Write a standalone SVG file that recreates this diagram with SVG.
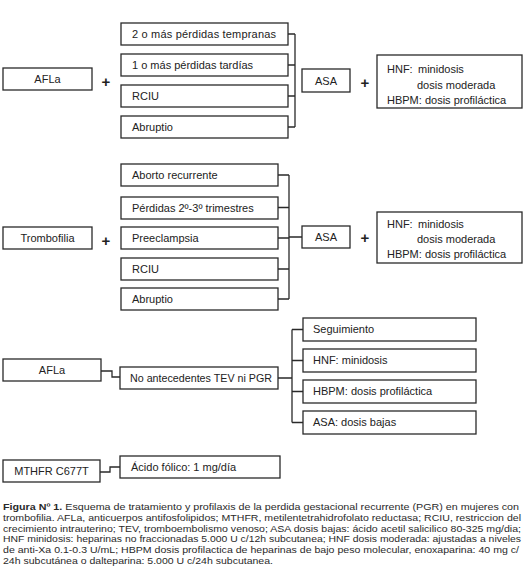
<svg xmlns="http://www.w3.org/2000/svg" width="526" height="578" viewBox="0 0 526 578">
<style>
.b{fill:#fff;stroke:#2a2a2a;stroke-width:1.3}
.t{font-family:"Liberation Sans",Arial,sans-serif;font-size:11px;fill:#222}
.c{text-anchor:middle}
.p{font-family:"Liberation Sans",Arial,sans-serif;font-size:15px;font-weight:bold;fill:#222;text-anchor:middle}
.cn{fill:none;stroke:#2a2a2a;stroke-width:1.3}
.cap{font-family:"Liberation Sans",Arial,sans-serif;font-size:9.8px;fill:#2a2a2a}
</style>
<rect width="526" height="578" fill="#fff"/>
<g id="connectors">
<path class="cn" d="M288,34H295M288,65H295M288,96H295M288,127H295M295,34V127"/>
<path class="cn" d="M278,175H289M278,207.5H289M278,238H289M278,269H289M278,299H289M289,175V299M289,237H302"/>
<path class="cn" d="M101,371H112V377H120M278,378H292M292,329.5V422.5M292,329.5H303M292,360.5H303M292,391.5H303M292,422.5H303"/>
<path class="cn" d="M100,472H110V467H120"/>
</g>
<g id="afla1"><rect class="b" x="3" y="68" width="89" height="22"/><text class="t c" x="47.5" y="83">AFLa</text></g>
<g id="plus1"><text class="p" x="106" y="87">+</text></g>
<g id="s1a"><rect class="b" x="121" y="23" width="167" height="22"/><text class="t" x="132" y="38" textLength="144" lengthAdjust="spacing">2 o más pérdidas tempranas</text></g>
<g id="s1b"><rect class="b" x="121" y="54" width="167" height="22"/><text class="t" x="132" y="69">1 o más pérdidas tardías</text></g>
<g id="s1c"><rect class="b" x="121" y="85" width="167" height="22"/><text class="t" x="132" y="100">RCIU</text></g>
<g id="s1d"><rect class="b" x="121" y="116" width="167" height="22"/><text class="t" x="132" y="131">Abruptio</text></g>
<g id="asa1"><rect class="b" x="302" y="69" width="48" height="23"/><text class="t c" x="326" y="85">ASA</text></g>
<g id="plus2"><text class="p" x="365" y="88">+</text></g>
<g id="hep1"><rect class="b" x="377" y="55" width="145" height="53"/>
<text class="t" x="387" y="73">HNF:</text><text class="t" x="418" y="73">minidosis</text>
<text class="t" x="417" y="89">dosis moderada</text>
<text class="t" x="387" y="104">HBPM: dosis profiláctica</text></g>

<g id="trombo"><rect class="b" x="3" y="227" width="89" height="22"/><text class="t c" x="47.5" y="242">Trombofilia</text></g>
<g id="plus3"><text class="p" x="106" y="246">+</text></g>
<g id="s2a"><rect class="b" x="121" y="164" width="157" height="22"/><text class="t" x="132" y="179">Aborto recurrente</text></g>
<g id="s2b"><rect class="b" x="121" y="197" width="157" height="22"/><text class="t" x="132" y="212">Pérdidas 2º-3º trimestres</text></g>
<g id="s2c"><rect class="b" x="121" y="227" width="157" height="22"/><text class="t" x="132" y="242">Preeclampsia</text></g>
<g id="s2d"><rect class="b" x="121" y="258" width="157" height="22"/><text class="t" x="132" y="273">RCIU</text></g>
<g id="s2e"><rect class="b" x="121" y="288" width="157" height="22"/><text class="t" x="132" y="303">Abruptio</text></g>
<g id="asa2"><rect class="b" x="302" y="226" width="48" height="22"/><text class="t c" x="326" y="241">ASA</text></g>
<g id="plus4"><text class="p" x="365" y="243">+</text></g>
<g id="hep2"><rect class="b" x="377" y="212" width="145" height="51"/>
<text class="t" x="387" y="228">HNF:</text><text class="t" x="418" y="228">minidosis</text>
<text class="t" x="417" y="243">dosis moderada</text>
<text class="t" x="387" y="258">HBPM: dosis profiláctica</text></g>

<g id="afla2"><rect class="b" x="3" y="359" width="98" height="22"/><text class="t c" x="52" y="374">AFLa</text></g>
<g id="noant"><rect class="b" x="120" y="367" width="158" height="22"/><text class="t" x="130" y="382" textLength="142" lengthAdjust="spacingAndGlyphs">No antecedentes TEV ni PGR</text></g>
<g id="s3a"><rect class="b" x="303" y="318" width="173" height="23"/><text class="t" x="313" y="333">Seguimiento</text></g>
<g id="s3b"><rect class="b" x="303" y="349" width="173" height="23"/><text class="t" x="313" y="364">HNF: minidosis</text></g>
<g id="s3c"><rect class="b" x="303" y="380" width="173" height="23"/><text class="t" x="313" y="395">HBPM: dosis profiláctica</text></g>
<g id="s3d"><rect class="b" x="303" y="411" width="173" height="23"/><text class="t" x="313" y="426">ASA: dosis bajas</text></g>

<g id="mthfr"><rect class="b" x="3" y="460" width="97" height="22"/><text class="t c" x="51.5" y="475">MTHFR C677T</text></g>
<g id="folico"><rect class="b" x="120" y="456" width="160" height="22"/><text class="t" x="131" y="471">Ácido fólico: 1 mg/día</text></g>

<g id="caption">
<text class="cap" x="3" y="510" textLength="516" lengthAdjust="spacingAndGlyphs"><tspan font-weight="bold">Figura Nº 1.</tspan> Esquema de tratamiento y profilaxis de la perdida gestacional recurrente (PGR) en mujeres con</text>
<text class="cap" x="3" y="521" textLength="518" lengthAdjust="spacingAndGlyphs">trombofilia. AFLa, anticuerpos antifosfolipidos; MTHFR, metilentetrahidrofolato reductasa; RCIU, restriccion del</text>
<text class="cap" x="3" y="531.5" textLength="518" lengthAdjust="spacingAndGlyphs">crecimiento intrauterino; TEV, tromboembolismo venoso; ASA dosis bajas: ácido acetil salicilico 80-325 mg/dia;</text>
<text class="cap" x="3" y="542" textLength="518" lengthAdjust="spacingAndGlyphs">HNF minidosis: heparinas no fraccionadas 5.000 U c/12h subcutanea; HNF dosis moderada: ajustadas a niveles</text>
<text class="cap" x="3" y="553" textLength="516" lengthAdjust="spacingAndGlyphs">de anti-Xa 0.1-0.3 U/mL; HBPM dosis profilactica de heparinas de bajo peso molecular, enoxaparina: 40 mg c/</text>
<text class="cap" x="3" y="564" textLength="270" lengthAdjust="spacingAndGlyphs">24h subcutánea o dalteparina: 5.000 U c/24h subcutanea.</text>
</g>
</svg>
